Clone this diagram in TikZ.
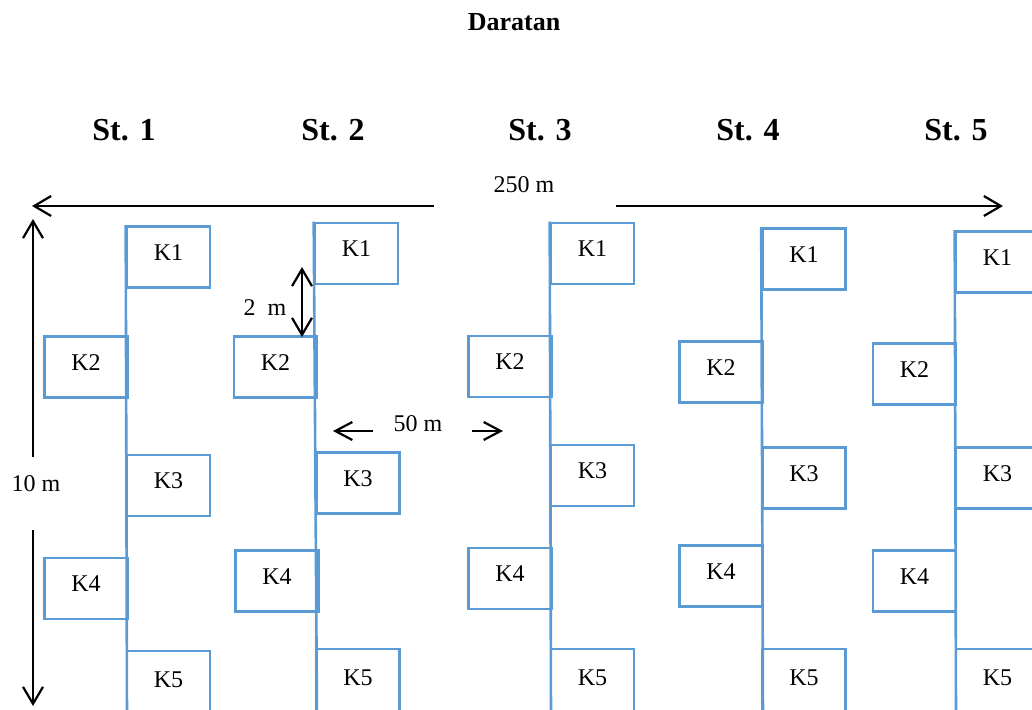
\documentclass[tikz,border=0pt]{standalone}
\usepackage{fontspec}
\setmainfont{Liberation Serif}
\usetikzlibrary{arrows.meta}
\definecolor{kblue}{RGB}{91,155,213}
\tikzset{
  kbox/.style={draw=kblue, line width=2.6pt, rectangle, inner sep=0pt,
    minimum width=83pt, minimum height=61pt, text depth=9pt,
    font=\fontsize{24}{28}\selectfont},
  kboxlow/.style={kbox, minimum height=66pt},
  spine/.style={draw=kblue, line width=2.6pt},
  title/.style={font=\fontsize{32}{36}\selectfont\bfseries, inner sep=0pt},
  dimtext/.style={font=\fontsize{24}{28}\selectfont, inner sep=0pt},
  dimline/.style={draw=black, line width=2.2pt,
    arrows={-Straight Barb[length=17pt,width=20pt]}},
  dimboth/.style={draw=black, line width=2.2pt,
    arrows={Straight Barb[length=17pt,width=20pt]-Straight Barb[length=17pt,width=20pt]}},
  dimshort/.style={draw=black, line width=2.2pt,
    arrows={-Straight Barb[length=17pt,width=18pt]}}
}
\begin{document}
\begin{tikzpicture}[x=1pt,y=-1pt]
\useasboundingbox (0,0) rectangle (1032,709);
\clip (0,0) rectangle (1032,709);

% headings
\node[font=\fontsize{26}{30}\selectfont\bfseries, inner sep=0pt] (daratan) at (514,22) {Daratan};
\node[title] (st1) at (124,130) {St. 1};
\node[title] (st2) at (333,130) {St. 2};
\node[title] (st3) at (540,130) {St. 3};
\node[title] (st4) at (748,130) {St. 4};
\node[title] (st5) at (956,130) {St. 5};

% station 1
\node[kbox] (s1k1) at (168.5,257) {K1};
\node[kbox] (s1k2) at (86,367) {K2};
\node[kbox] (s1k3) at (168.5,485.5) {K3};
\node[kbox] (s1k4) at (86,588.5) {K4};
\node[kboxlow] (s1k5) at (168.5,684) {K5};
\coordinate (s1end) at (127,720);
\draw[spine] (s1k1.north west) -- (s1end);

% station 2
\node[kbox] (s2k1) at (356.5,253.5) {K1};
\node[kbox] (s2k2) at (275.5,367) {K2};
\node[kbox] (s2k3) at (358,483) {K3};
\node[kbox] (s2k4) at (277,581) {K4};
\node[kboxlow] (s2k5) at (358,682) {K5};
\coordinate (s2end) at (317,720);
\draw[spine] (s2k1.north west) -- (s2end);

% station 3
\node[kbox] (s3k1) at (592.5,253.5) {K1};
\node[kbox] (s3k2) at (510,366.5) {K2};
\node[kbox] (s3k3) at (592.5,475.5) {K3};
\node[kbox] (s3k4) at (510,578.5) {K4};
\node[kboxlow] (s3k5) at (592.5,682) {K5};
\coordinate (s3end) at (551,720);
\draw[spine] (s3k1.north west) -- (s3end);

% station 4
\node[kbox] (s4k1) at (804,259) {K1};
\node[kbox] (s4k2) at (721,372) {K2};
\node[kbox] (s4k3) at (804,478) {K3};
\node[kbox] (s4k4) at (721,576) {K4};
\node[kboxlow] (s4k5) at (804,682) {K5};
\coordinate (s4end) at (763,720);
\draw[spine] (s4k1.north west) -- (s4end);

% station 5
\node[kbox] (s5k1) at (997.5,262) {K1};
\node[kbox] (s5k2) at (914.5,374) {K2};
\node[kbox] (s5k3) at (997.5,478) {K3};
\node[kbox] (s5k4) at (914.5,581) {K4};
\node[kboxlow] (s5k5) at (997.5,682) {K5};
\coordinate (s5end) at (956,720);
\draw[spine] (s5k1.north west) -- (s5end);

% total length 250 m
\node[dimtext] (len) at (524,185) {250 m};
\coordinate (lenL0) at (434,206);
\coordinate (lenL1) at (32,206);
\coordinate (lenR0) at (616,206);
\coordinate (lenR1) at (1003,206);
\draw[dimline] (lenL0) -- (lenL1);
\draw[dimline] (lenR0) -- (lenR1);

% depth 10 m
\node[dimtext] (dep) at (36,484) {10 m};
\coordinate (depU0) at (33,457);
\coordinate (depU1) at (33,219);
\coordinate (depD0) at (33,530);
\coordinate (depD1) at (33,706);
\draw[dimline] (depU0) -- (depU1);
\draw[dimline] (depD0) -- (depD1);

% spacing 2 m
\node[dimtext] (gap) at (265,308) {2\ \ m};
\coordinate (gapT) at (302,267);
\coordinate (gapB) at (302,337);
\draw[dimboth] (gapT) -- (gapB);

% spacing 50 m
\node[dimtext] (sep) at (418,424) {50 m};
\coordinate (sepL0) at (373,431);
\coordinate (sepL1) at (333,431);
\coordinate (sepR0) at (472,431);
\coordinate (sepR1) at (503,431);
\draw[dimshort] (sepL0) -- (sepL1);
\draw[dimshort] (sepR0) -- (sepR1);
\end{tikzpicture}
\end{document}
